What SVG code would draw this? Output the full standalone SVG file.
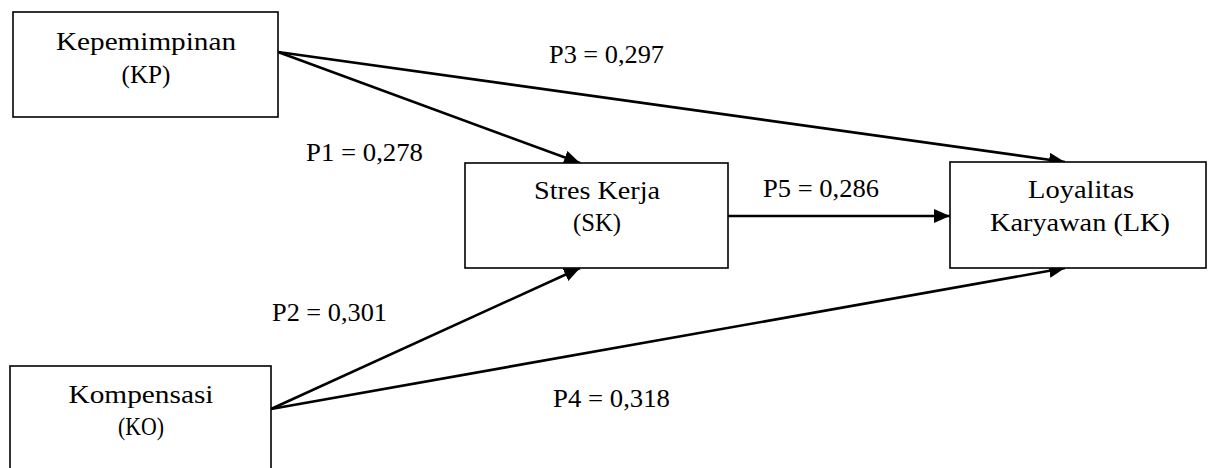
<svg xmlns="http://www.w3.org/2000/svg" width="1208" height="468" viewBox="0 0 1208 468">
<style>
.box{fill:#fff;stroke:#000;stroke-width:1.6}
.t{font-family:"Liberation Serif","Times New Roman",serif;font-size:25px;fill:#000}
.c{text-anchor:middle}
.edge{stroke:#000;stroke-width:2.6;fill:none;marker-end:url(#ah)}
</style>
<defs>
<marker id="ah" markerUnits="userSpaceOnUse" markerWidth="20" markerHeight="16" refX="16" refY="7" orient="auto">
<path d="M0,0 L16,7 L0,14 Z" fill="#000"/>
</marker>
</defs>
<rect width="1208" height="468" fill="#fff"/>
<g id="connectors">
<line class="edge" x1="278" y1="52" x2="580" y2="163"/>
<line class="edge" x1="278" y1="52" x2="1065" y2="162"/>
<line class="edge" x1="728" y1="216" x2="950" y2="216"/>
<line class="edge" x1="271" y1="409" x2="580" y2="268"/>
<line class="edge" x1="271" y1="409" x2="1065" y2="268"/>
<text class="t" x="549" y="63" textLength="115" lengthAdjust="spacingAndGlyphs">P3 = 0,297</text>
<text class="t" x="306" y="161" textLength="117" lengthAdjust="spacingAndGlyphs">P1 = 0,278</text>
<text class="t" x="763" y="197" textLength="116" lengthAdjust="spacingAndGlyphs">P5 = 0,286</text>
<text class="t" x="272" y="321" textLength="115" lengthAdjust="spacingAndGlyphs">P2 = 0,301</text>
<text class="t" x="553" y="407" textLength="117" lengthAdjust="spacingAndGlyphs">P4 = 0,318</text>
</g>
<g id="node-KP">
<rect class="box" x="13" y="12" width="265" height="105"/>
<text class="t c" x="146" y="50" textLength="180" lengthAdjust="spacingAndGlyphs">Kepemimpinan</text>
<text class="t c" x="146" y="83" textLength="49" lengthAdjust="spacingAndGlyphs">(KP)</text>
</g>
<g id="node-SK">
<rect class="box" x="465" y="163" width="263" height="105"/>
<text class="t c" x="597" y="199" textLength="126" lengthAdjust="spacingAndGlyphs">Stres Kerja</text>
<text class="t c" x="597" y="231" textLength="48" lengthAdjust="spacingAndGlyphs">(SK)</text>
</g>
<g id="node-LK">
<rect class="box" x="950" y="162" width="256" height="106"/>
<text class="t c" x="1081" y="198" textLength="106" lengthAdjust="spacingAndGlyphs">Loyalitas</text>
<text class="t c" x="1080" y="231" textLength="180" lengthAdjust="spacingAndGlyphs">Karyawan (LK)</text>
</g>
<g id="node-KO">
<rect class="box" x="10" y="366" width="261" height="110"/>
<text class="t c" x="141" y="403" textLength="145" lengthAdjust="spacingAndGlyphs">Kompensasi</text>
<text class="t c" x="141" y="435" textLength="46" lengthAdjust="spacingAndGlyphs">(KO)</text>
</g>
</svg>
